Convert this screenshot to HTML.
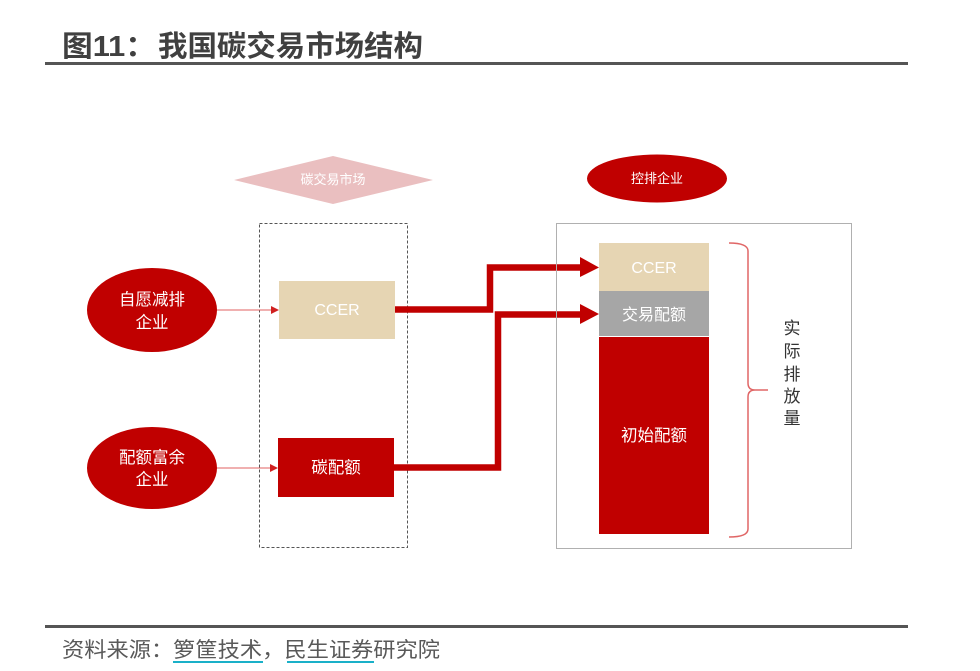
<!DOCTYPE html>
<html>
<head>
<meta charset="utf-8">
<style>
  html,body{margin:0;padding:0;background:#fff;}
  body{width:980px;height:671px;overflow:hidden;}
  svg{display:block;}
  text{font-family:"Liberation Sans","Noto Sans CJK SC","WenQuanYi Zen Hei",sans-serif;}
</style>
</head>
<body>
<svg width="980" height="671" viewBox="0 0 980 671" xmlns="http://www.w3.org/2000/svg">
  <!-- Title -->
  <text x="62" y="56" font-size="29" font-weight="bold" fill="#404040" textLength="94" lengthAdjust="spacingAndGlyphs">图11：</text>
  <text x="158" y="56" font-size="29" font-weight="bold" fill="#404040" textLength="265" lengthAdjust="spacingAndGlyphs">我国碳交易市场结构</text>
  <rect x="45" y="62" width="863" height="3" fill="#555555"/>

  <!-- Diamond -->
  <polygon points="234,180 333,156 433,180 333,204" fill="#eabfc0"/>
  <text x="333" y="184" font-size="13" fill="#ffffff" text-anchor="middle">碳交易市场</text>

  <!-- Dashed box -->
  <rect x="259.5" y="223.5" width="148" height="324" fill="none" stroke="#555" stroke-width="1" stroke-dasharray="3,2"/>

  <!-- Ellipse 1 -->
  <ellipse cx="152" cy="310" rx="65" ry="42" fill="#c00000"/>
  <text x="152" y="305" font-size="16.5" fill="#fff" text-anchor="middle">自愿减排</text>
  <text x="152" y="328" font-size="16.5" fill="#fff" text-anchor="middle">企业</text>

  <!-- Ellipse 2 -->
  <ellipse cx="152" cy="468" rx="65" ry="41" fill="#c00000"/>
  <text x="152" y="463" font-size="16.5" fill="#fff" text-anchor="middle">配额富余</text>
  <text x="152" y="485" font-size="16.5" fill="#fff" text-anchor="middle">企业</text>

  <!-- thin arrows -->
  <line x1="217" y1="310" x2="273" y2="310" stroke="#e06060" stroke-width="1"/>
  <polygon points="271,306 279,310 271,314" fill="#d02020"/>
  <line x1="217" y1="468" x2="272" y2="468" stroke="#e06060" stroke-width="1"/>
  <polygon points="270,464 278,468 270,472" fill="#d02020"/>

  <!-- CCER box -->
  <rect x="279" y="281" width="116" height="58" fill="#e6d5b3"/>
  <text x="337" y="315" font-size="16" fill="#fff" text-anchor="middle">CCER</text>

  <!-- 碳配额 box -->
  <rect x="278" y="438" width="116" height="59" fill="#c00000"/>
  <text x="336" y="473" font-size="16.5" fill="#fff" text-anchor="middle">碳配额</text>

  <!-- thick connectors -->
  <path d="M395 309.5 H490 V267.5 H583" fill="none" stroke="#c00000" stroke-width="6.5"/>
  <polygon points="580,257 599,267.5 580,277" fill="#c00000"/>
  <path d="M394 467.5 H498 V314.5 H583" fill="none" stroke="#c00000" stroke-width="6.5"/>
  <polygon points="580,304 599,314 580,324" fill="#c00000"/>

  <!-- 控排企业 ellipse -->
  <ellipse cx="657" cy="178.5" rx="70" ry="24" fill="#c00000"/>
  <text x="657" y="183" font-size="13" fill="#fff" text-anchor="middle">控排企业</text>

  <!-- Right box -->
  <rect x="556.5" y="223.5" width="295" height="325" fill="none" stroke="#b0b0b0" stroke-width="1"/>

  <!-- stacked bar -->
  <rect x="599" y="243" width="110" height="48" fill="#e6d5b3"/>
  <text x="654" y="273" font-size="16" fill="#fff" text-anchor="middle">CCER</text>
  <rect x="599" y="291" width="110" height="45" fill="#a6a6a6"/>
  <text x="654" y="320" font-size="16" fill="#fff" text-anchor="middle">交易配额</text>
  <rect x="599" y="337" width="110" height="197" fill="#c00000"/>
  <text x="654" y="441" font-size="16.5" fill="#fff" text-anchor="middle">初始配额</text>

  <!-- brace -->
  <path d="M729 243 Q748 243 748 251 V383 Q748 390 755 390 H768 M755 390 Q748 390 748 397 V529 Q748 537 729 537" fill="none" stroke="#e06666" stroke-width="1.5"/>

  <!-- vertical text -->
  <g font-size="17" fill="#333" text-anchor="middle">
    <text x="792" y="334">实</text>
    <text x="792" y="357">际</text>
    <text x="792" y="380">排</text>
    <text x="792" y="402">放</text>
    <text x="792" y="424">量</text>
  </g>

  <!-- Footer -->
  <rect x="45" y="625" width="863" height="3" fill="#555555"/>
  <text x="62" y="657" font-size="21" fill="#595959" textLength="378" lengthAdjust="spacingAndGlyphs">资料来源：箩筐技术，民生证券研究院</text>
  <rect x="173" y="661" width="90" height="2" fill="#1ab0c8"/>
  <rect x="287" y="661" width="87" height="2" fill="#1ab0c8"/>
</svg>
</body>
</html>
